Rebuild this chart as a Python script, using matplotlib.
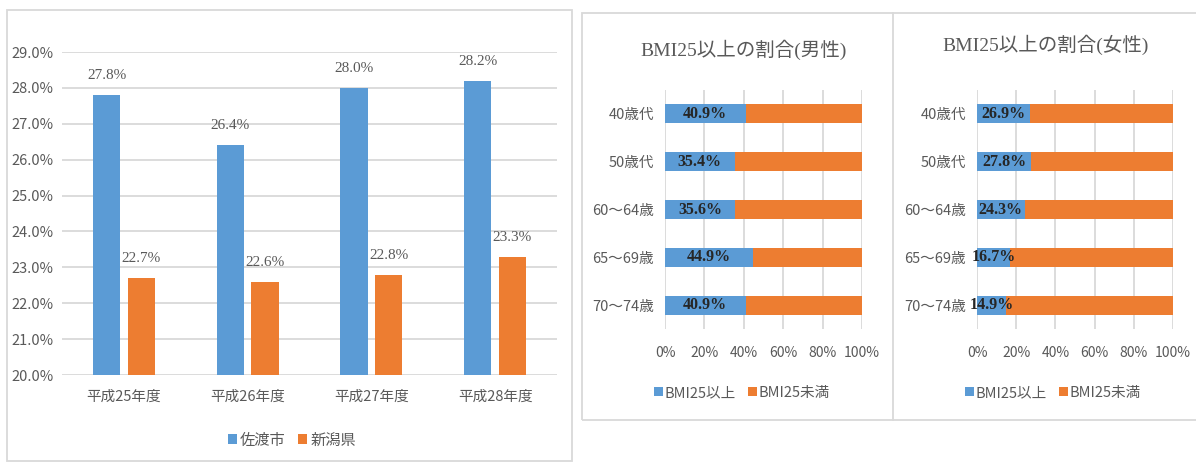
import matplotlib
matplotlib.use('Agg')
import matplotlib.pyplot as plt
import numpy as np
from matplotlib.patches import Rectangle

plt.rcParams['font.family'] = ['Noto Sans CJK JP', 'DejaVu Sans']

# left chart data
years = ['平成25年度', '平成26年度', '平成27年度', '平成28年度']
sado = [27.8, 26.4, 28.0, 28.2]
niigata = [22.7, 22.6, 22.8, 23.3]
yticks = [20, 21, 22, 23, 24, 25, 26, 27, 28, 29]

# right charts data
ages = ['40歳代', '50歳代', '60～64歳', '65～69歳', '70～74歳']
male_over = [40.9, 35.4, 35.6, 44.9, 40.9]
male_under = [59.1, 64.6, 64.4, 55.1, 59.1]
female_over = [26.9, 27.8, 24.3, 16.7, 14.9]
female_under = [73.1, 72.2, 75.7, 83.3, 85.1]
xticks = [0, 20, 40, 60, 80, 100]

blue = '#5B9BD5'
orange = '#ED7D31'
grid = '#D9D9D9'
txt = '#595959'
W, H = 1196, 462

fig = plt.figure(figsize=(W / 100, H / 100), dpi=100)


def fx(px):
    return px / W


def fy(py):
    return 1 - py / H


# chart frames
for x0, y0, x1, y1 in [(7, 10, 572, 461), (582, 13, 1199, 420)]:
    fig.add_artist(Rectangle((fx(x0), fy(y1)), fx(x1 - x0), (y1 - y0) / H,
                             transform=fig.transFigure, fill=False,
                             edgecolor=grid, lw=1.3))
fig.add_artist(plt.Line2D([fx(893), fx(893)], [fy(13), fy(420)],
                          transform=fig.transFigure, color=grid, lw=1.3))

# ---- left: grouped bars
ax = fig.add_axes([fx(62), fy(375), fx(495), 323 / H])
x = np.arange(len(years))
w = 0.22
b1 = ax.bar(x - 0.14, sado, w, color=blue, label='佐渡市', zorder=3)
b2 = ax.bar(x + 0.14, niigata, w, color=orange, label='新潟県', zorder=3)
for bars in (b1, b2):
    for r in bars:
        ax.annotate(f'{r.get_height():.1f}%', (r.get_x() + r.get_width() / 2, r.get_height()),
                    xytext=(0, 14), textcoords='offset points', ha='center', va='center',
                    fontsize=11, color=txt, family=['Liberation Serif', 'DejaVu Serif'],
                    annotation_clip=False)
ax.set_ylim(20, 29)
ax.set_xlim(-0.5, 3.5)
ax.set_yticks(yticks)
ax.set_yticklabels([f'{v:.1f}%' for v in yticks])
ax.set_xticks(x)
ax.set_xticklabels(years)
ax.yaxis.grid(True, color=grid, lw=1.3, zorder=0)
ax.set_axisbelow(True)
for s in ax.spines.values():
    s.set_visible(False)
ax.tick_params(length=0, colors=txt, labelsize=10.5)
ax.tick_params(axis='x', pad=11)
ax.tick_params(axis='y', pad=6)
fig.legend(handles=[b1, b2], loc='center', bbox_to_anchor=(fx(292), fy(440)), ncol=2,
           frameon=False, fontsize=11, handlelength=0.6, handleheight=0.6,
           handletextpad=0.2, columnspacing=0.8, labelcolor=txt)

# ---- right: stacked horizontal bars
panels = [
    ('BMI25以上の割合(男性)', male_over, male_under, 665, 197, 744, 50, 742),
    ('BMI25以上の割合(女性)', female_over, female_under, 977, 196, 1046, 45, 1053),
]
for title, over, under, left, width, tx, ty, lx in panels:
    a = fig.add_axes([fx(left), fy(329), fx(width), 239 / H])
    yy = np.arange(len(ages))
    h1 = a.barh(yy, over, 0.4, color=blue, label='BMI25以上', zorder=3)
    h2 = a.barh(yy, under, 0.4, left=over, color=orange, label='BMI25未満', zorder=3)
    for yi, v in zip(yy, over):
        a.text(v / 2, yi, f'{v:.1f}%', ha='center', va='center', fontsize=11.5,
               color='#262626', fontweight='bold', zorder=4,
               family=['Liberation Serif', 'DejaVu Serif'])
    a.set_xlim(0, 100)
    a.set_ylim(4.5, -0.5)
    a.set_xticks(xticks)
    a.set_xticklabels([f'{v}%' for v in xticks])
    a.set_yticks(yy)
    a.set_yticklabels(ages)
    a.xaxis.grid(True, color=grid, lw=1.3, zorder=0)
    a.set_axisbelow(True)
    for s in a.spines.values():
        s.set_visible(False)
    a.tick_params(length=0, colors=txt, labelsize=10.5)
    a.tick_params(axis='x', pad=12, labelsize=10)
    a.tick_params(axis='y', pad=8)
    fig.text(fx(tx), fy(ty), title, ha='center', va='center', fontsize=14, color=txt,
             family=['Liberation Serif', 'Noto Sans CJK JP'])
    fig.legend(handles=[h1, h2], loc='center', bbox_to_anchor=(fx(lx), fy(393)), ncol=2,
               frameon=False, fontsize=10.5, handlelength=0.6, handleheight=0.6,
               handletextpad=0.15, columnspacing=0.8, labelcolor=txt)

fig.savefig('out.png', dpi=100)
